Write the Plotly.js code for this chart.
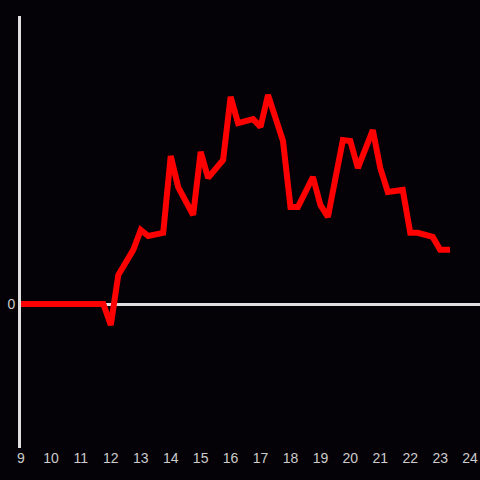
<!DOCTYPE html>
<html>
<head>
<meta charset="utf-8">
<script src="https://cdn.plot.ly/plotly-3.0.1.min.js"></script>
<style>html,body{margin:0;padding:0;background:#040206;}#chart{width:480px;height:480px;}</style>
</head>
<body>
<div id="chart"></div>
<script>
const hours = [9, 11.75, 12, 12.25, 12.75, 13, 13.25, 13.75, 14, 14.25, 14.75, 15, 15.25, 15.75, 16, 16.25, 16.75, 17, 17.25, 17.75, 18, 18.25, 18.75, 19, 19.25, 19.75, 20, 20.25, 20.75, 21, 21.25, 21.75, 22, 22.25, 22.75, 23, 23.33];
const values = [0, 0, -7.3, 10.1, 18.8, 25.7, 23.6, 24.7, 51.4, 40.6, 30.9, 52.8, 43.8, 50, 71.9, 62.8, 64.2, 61.5, 72.6, 56.6, 33.7, 33.7, 44.1, 34.4, 30.2, 56.9, 56.6, 47.2, 60.4, 47.2, 38.9, 39.6, 24.7, 24.7, 23.3, 18.8, 18.8];
const xTicks = [9, 10, 11, 12, 13, 14, 15, 16, 17, 18, 19, 20, 21, 22, 23, 24];

Plotly.newPlot('chart', [{
  x: hours, y: values, type: 'scatter', mode: 'lines',
  line: {color: '#ff0000', width: 6}, hoverinfo: 'skip'
}], {
  width: 480, height: 480,
  paper_bgcolor: '#040206', plot_bgcolor: '#040206',
  margin: {l: 21, r: 0, t: 16, b: 32},
  showlegend: false,
  xaxis: {
    range: [9, 24.33], tickvals: xTicks, ticktext: xTicks.map(String),
    showgrid: false, zeroline: false, showline: false, ticks: '',
    tickfont: {family: 'Liberation Sans, Arial, sans-serif', size: 14, color: '#cccccc'}
  },
  yaxis: {
    range: [-50, 100], tickvals: [0], ticktext: ['0'],
    showgrid: false, zeroline: true, zerolinecolor: '#e0e0e0', zerolinewidth: 3,
    showline: true, linecolor: '#e0e0e0', linewidth: 3, ticks: '',
    tickfont: {family: 'Liberation Sans, Arial, sans-serif', size: 14, color: '#cccccc'}
  }
}, {displayModeBar: false, staticPlot: true});
</script>
</body>
</html>
